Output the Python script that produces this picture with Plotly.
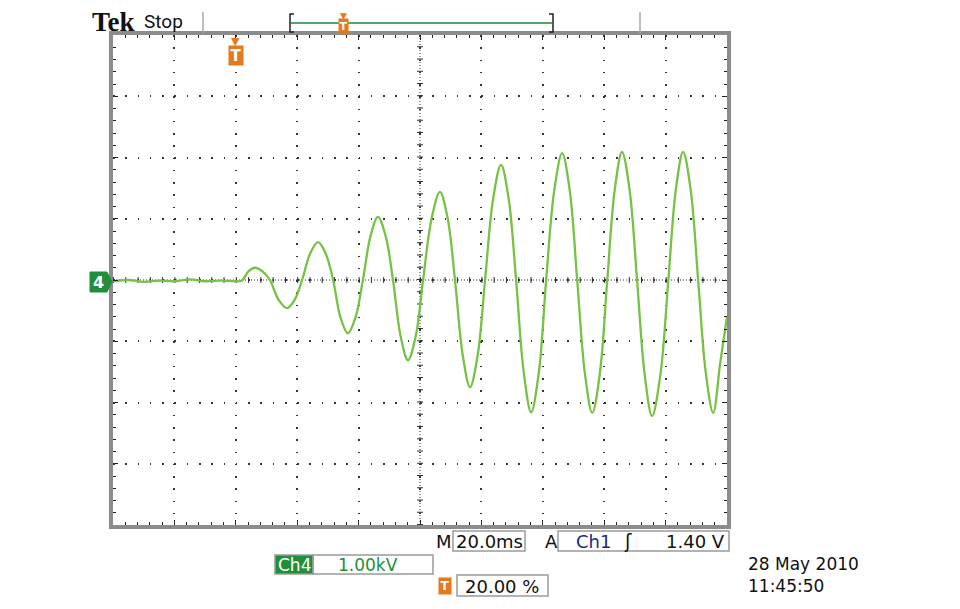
import plotly.graph_objects as go

time_ms = [-40, -35, -30, -25, -20, -15, -10, -5, 0, 2.0,
           4.1, 6.3, 8.7, 11.1, 13.9, 16.7, 19.2, 21.6,
           24.2, 26.8, 29.3, 31.7, 34.1, 36.5, 39.0, 41.4,
           43.9, 46.3, 48.8, 51.2, 53.7, 56.1, 58.6, 61.0,
           63.8, 66.5, 69.0, 71.4, 73.9, 76.3, 78.8, 81.2,
           83.8, 86.4, 88.9, 91.3, 93.8, 96.2, 98.7, 101.1,
           103.7, 106.3, 108.8, 111.2, 113.7, 116.1, 118.6, 121.0,
           123.4, 125.8, 128.3, 130.7, 133.2, 135.6, 138.3, 140.9,
           143.3, 145.7, 148.2, 150.6, 153.1, 155.5, 157.8, 160]
volt_kv = [-0.02, 0.0, -0.03, -0.01, -0.02, 0.01, -0.02, -0.01, -0.02, -0.01,
           0.14, 0.20, 0.14, 0.0, -0.32, -0.46, -0.32, 0.0,
           0.43, 0.62, 0.43, 0.0, -0.61, -0.87, -0.61, 0.0,
           0.72, 1.03, 0.72, 0.0, -0.92, -1.31, -0.92, 0.0,
           1.01, 1.44, 1.01, 0.0, -1.22, -1.75, -1.22, 0.0,
           1.32, 1.88, 1.32, 0.0, -1.51, -2.16, -1.51, 0.0,
           1.45, 2.07, 1.45, 0.0, -1.52, -2.17, -1.52, 0.0,
           1.46, 2.09, 1.46, 0.0, -1.55, -2.22, -1.55, 0.0,
           1.46, 2.09, 1.46, 0.0, -1.52, -2.17, -1.35, -0.6]

x_range = [-40, 160]      # ms, 20 ms/div, trigger at 20 %
y_range = [-4, 4]         # kV, 1 kV/div
time_div = 20
volt_div = 1
trigger_time = 0
center_time = 60

header_left = "Tek"
header_state = "Stop"
timebase_text = "20.0ms"
trigger_src = "Ch1"
trigger_level = "1.40 V"
ch_label = "Ch4"
ch_scale = "1.00kV"
trig_pos = "20.00 %"
date_text = "28 May 2010"
time_text = "11:45:50"

# ---- layout geometry (reference pixel coords) ----
OFF = 8                      # page body margin
W, H = 960 - OFF, 609 - OFF
L, R, T, B = 113, 727, 35, 525

def PX(x):
    return (x - L) / (R - L)

def PY(y):
    return (B - y) / (B - T)

GREEN = "#76c244"
DKGREEN = "#1f8f3a"
ORANGE = "#e5791f"
NAVY = "#1b2a7a"
FONT = "DejaVu Sans"

fig = go.Figure()
fig.add_trace(go.Scatter(x=time_ms, y=volt_kv, mode="lines",
                         line=dict(color=GREEN, width=2.3, shape="spline", smoothing=1.0),
                         hoverinfo="skip", showlegend=False))

axis_common = dict(showticklabels=False, showline=True, linecolor="#8c8c8c",
                   linewidth=3.5, mirror="ticks", ticks="inside", ticklen=5,
                   tickcolor="#222", tickwidth=1, zeroline=False,
                   gridcolor="#333", gridwidth=1.6)

fig.update_xaxes(range=x_range, dtick=time_div, tick0=0,
                 griddash="1.6px,10.65px",
                 minor=dict(dtick=time_div / 5, ticks="inside", ticklen=3,
                            tickcolor="#222", showgrid=False),
                 **axis_common)
fig.update_yaxes(range=y_range, dtick=volt_div, tick0=0,
                 griddash="1.6px,10.68px",
                 minor=dict(dtick=volt_div / 5, ticks="inside", ticklen=3,
                            tickcolor="#222", showgrid=False),
                 **axis_common)

shapes = []
# center crosshair (dense dots + ticks)
shapes.append(dict(type="line", xref="x", yref="y", x0=x_range[0], x1=x_range[1], y0=0, y1=0,
                   line=dict(color="#333", width=1, dash="1px,2px"), layer="below"))
shapes.append(dict(type="line", xref="x", yref="y", x0=x_range[0], x1=x_range[1], y0=0, y1=0,
                   line=dict(color="#333", width=6, dash="1px,11.28px"), layer="below"))
shapes.append(dict(type="line", xref="x", yref="y", x0=center_time, x1=center_time,
                   y0=y_range[0], y1=y_range[1],
                   line=dict(color="#333", width=1, dash="1px,2px"), layer="below"))
shapes.append(dict(type="line", xref="x", yref="y", x0=center_time, x1=center_time,
                   y0=y_range[0], y1=y_range[1],
                   line=dict(color="#333", width=6, dash="1px,11.25px"), layer="below"))

# header separators
for xp in (203, 640):
    shapes.append(dict(type="line", xref="paper", yref="paper", x0=PX(xp), x1=PX(xp),
                       y0=PY(12), y1=PY(33), line=dict(color="#aaa", width=1.5)))
# record bar
shapes.append(dict(type="line", xref="paper", yref="paper", x0=PX(291), x1=PX(552),
                   y0=PY(23), y1=PY(23), line=dict(color="#4fa866", width=2)))
shapes.append(dict(type="path", xref="paper", yref="paper",
                   path=f"M{PX(294)},{PY(14)} L{PX(290)},{PY(14)} L{PX(290)},{PY(32)} L{PX(294)},{PY(32)}",
                   line=dict(color="#222", width=1.5)))
shapes.append(dict(type="path", xref="paper", yref="paper",
                   path=f"M{PX(549)},{PY(14)} L{PX(553)},{PY(14)} L{PX(553)},{PY(32)} L{PX(549)},{PY(32)}",
                   line=dict(color="#222", width=1.5)))
# channel ground marker body (pointing right)
shapes.append(dict(type="path", xref="paper", yref="paper",
                   path=(f"M{PX(90)},{PY(272)} L{PX(107)},{PY(272)} L{PX(112)},{PY(282)} "
                         f"L{PX(107)},{PY(292)} L{PX(90)},{PY(292)} Z"),
                   fillcolor=DKGREEN, line=dict(color=DKGREEN, width=1)))

# readout boxes
def box(x0, y0, x1, y1, fill=None):
    shapes.append(dict(type="rect", xref="paper", yref="paper", x0=PX(x0), x1=PX(x1),
                       y0=PY(y1), y1=PY(y0), line=dict(color="#9a9a9a", width=1.5),
                       fillcolor=fill if fill else "rgba(0,0,0,0)"))

box(453, 531, 525, 551)
box(558, 531, 729, 551)
box(275, 555, 313, 574, DKGREEN)
box(313, 555, 433, 574)
box(457, 575, 548, 596)

fig.update_layout(shapes=shapes)

ann = []
def text(x, y, s, size=17, color="#111", xanchor="center", family=FONT, **kw):
    ann.append(dict(x=PX(x), y=PY(y), xref="paper", yref="paper", text=s, showarrow=False,
                    xanchor=xanchor, yanchor="middle", font=dict(size=size, color=color, family=family), **kw))

def tmark(x, y, xref, size, w, h):
    ann.append(dict(x=x, y=y, xref=xref, yref="paper", text="<b>T</b>", showarrow=False,
                    xanchor="center", yanchor="middle",
                    font=dict(size=size, color="white", family=FONT), bgcolor=ORANGE,
                    width=w, height=h, borderpad=0))

def tri(x, y, xref, size):
    ann.append(dict(x=x, y=y, xref=xref, yref="paper", text="▼", showarrow=False,
                    xanchor="center", yanchor="middle",
                    font=dict(size=size, color=ORANGE, family=FONT)))

text(90, 22, f"<b>{header_left}</b>", size=27, xanchor="left", family="Liberation Serif")
text(142, 21, header_state, size=19, xanchor="left", family="Roboto")

# small trigger marker on record bar
tri(PX(343), PY(16), "paper", 9)
tmark(PX(343), PY(26), "paper", 11, 9, 14)

# trigger marker above grid (at trigger time)
tri(trigger_time, PY(41), "x", 11)
tmark(trigger_time, PY(55), "x", 15, 14, 19)

# channel ground label
text(98, 282, "<b>4</b>", size=16, color="white")

# bottom readouts
text(444, 541, "M", size=18)
text(489, 541, timebase_text, size=18)
text(551, 541, "A", size=18)
text(593, 541, trigger_src, color=NAVY, size=18)
text(628, 541, "ʃ", color="#111", size=19)
text(727, 541, trigger_level, xanchor="right", size=18)
text(294, 565, ch_label, color="white", size=17)
text(368, 565, ch_scale, color=DKGREEN, size=17)
tmark(PX(445), PY(586), "paper", 12, 12, 16)
text(502, 586, trig_pos, size=18)
ann.append(dict(x=PX(746), y=PY(575), xref="paper", yref="paper",
                text=f"{date_text}<br>{time_text}", showarrow=False, align="left",
                xanchor="left", yanchor="middle",
                font=dict(size=17, color="#111", family=FONT)))

fig.update_layout(annotations=ann, width=W, height=H,
                  margin=dict(l=L - OFF, r=W - (R - OFF), t=T - OFF, b=H - (B - OFF)),
                  paper_bgcolor="white", plot_bgcolor="white", showlegend=False)

fig.write_html("out.html")
